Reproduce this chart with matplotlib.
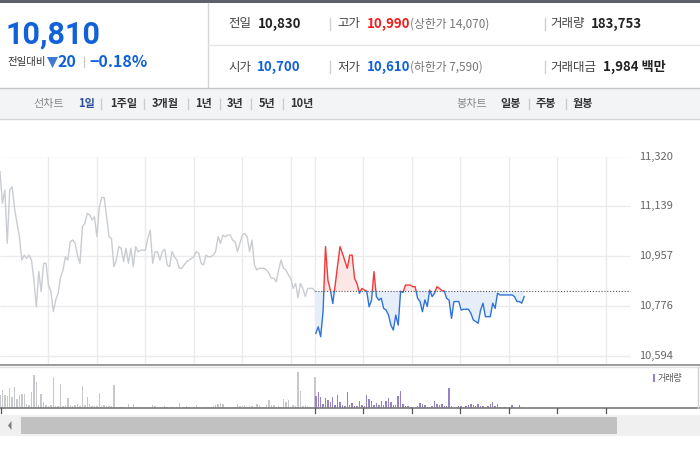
import numpy as np
import matplotlib.pyplot as plt
from matplotlib.patches import Rectangle, Polygon
from matplotlib.lines import Line2D

plt.rcParams['font.family'] = ['Noto Sans CJK KR', 'DejaVu Sans']

# ---- data (3-minute steps) ----
ref_price = 10830          # 전일 종가
day_minutes = 390          # 09:00 ~ 15:30

prev_prices = [
    11265, 11150, 11198, 11004, 11198, 11210, 11131, 11077, 11028, 10943,
    10961, 10949, 10961, 10943, 10870, 10773, 10901, 10828, 10931, 10931,
    10852, 10830, 10755, 10798, 10822, 10880, 10907, 10955, 10943, 11010,
    11016, 11004, 10960, 10931, 11064, 11077, 11113, 11107, 11089, 11100,
    11028, 11137, 11171, 11171, 11101, 11028, 11022, 10919, 10943, 10992,
    10986, 10937, 10986, 10931, 10986, 10919, 10992, 10973, 10979, 10979,
    10979, 11022, 11052, 10931, 10973, 10973, 10943, 10974, 10982, 10925,
    10919, 10974, 10955, 10943, 10913, 10913, 10925, 10937, 10943, 10949,
    10955, 10974, 10968, 10931, 10925, 10961, 10955, 10955, 10961, 10974,
    11028, 11004, 11034, 11028, 11034, 11034, 11016, 11010, 10974, 11004,
    11034, 11040, 11028, 10974, 11016, 10925, 10907, 10913, 10913, 10913,
    10907, 10895, 10877, 10877, 10864, 10907, 10943, 10913, 10907, 10889,
    10877, 10840, 10858, 10806, 10858, 10840, 10810, 10840, 10840, 10840,
    10830,
]
today_prices = [
    10676, 10700, 10664, 10755, 10992, 10870, 10834, 10785, 10852, 10925,
    10992, 10967, 10940, 10913, 10961, 10961, 10876, 10858, 10822, 10840,
    10834, 10830, 10773, 10797, 10901, 10810, 10797, 10804, 10767, 10761,
    10743, 10706, 10688, 10743, 10706, 10830, 10825, 10852, 10852, 10852,
    10846, 10846, 10804, 10792, 10755, 10798, 10774, 10834, 10810, 10822,
    10846, 10840, 10832, 10830, 10804, 10797, 10731, 10792, 10792, 10792,
    10761, 10764, 10764, 10764, 10749, 10725, 10719, 10713, 10761, 10786,
    10737, 10737, 10737, 10786, 10767, 10822, 10816, 10816, 10816, 10816,
    10816, 10816, 10810, 10792, 10792, 10786, 10810,
]
prev_volume = [
    13, 18, 13, 12, 20, 11, 21, 9, 13, 14,
    14, 4, 3, 16, 33, 26, 3, 14, 6, 3,
    2, 3, 31, 2, 2, 24, 2, 3, 10, 3,
    2, 3, 4, 2, 22, 3, 11, 4, 2, 2,
    2, 15, 2, 3, 2, 2, 2, 23, 1, 1,
    1, 1, 0, 4, 1, 4, 0, 1, 1, 0,
    1, 0, 1, 3, 2, 1, 0, 1, 2, 1,
    0, 1, 0, 1, 5, 0, 1, 2, 1, 0,
    1, 3, 1, 0, 1, 1, 1, 1, 2, 3,
    4, 5, 4, 1, 0, 1, 1, 1, 4, 2,
    2, 3, 1, 2, 2, 1, 4, 3, 1, 1,
    3, 8, 3, 3, 1, 2, 1, 9, 6, 8,
    1, 3, 2, 36, 17, 2, 3, 2, 1, 0,
    31,
]
today_volume = [
    12, 16, 11, 4, 10, 8, 6, 11, 3, 13,
    6, 3, 2, 16, 3, 5, 2, 2, 7, 3,
    2, 13, 9, 7, 3, 5, 3, 7, 3, 7,
    10, 6, 3, 3, 12, 17, 4, 2, 2, 1,
    1, 0, 2, 5, 4, 3, 1, 1, 2, 7,
    4, 3, 4, 2, 2, 20, 2, 0, 1, 2,
    2, 1, 2, 3, 4, 3, 2, 4, 2, 2,
    1, 2, 4, 6, 2, 4, 1, 0, 1, 0,
    1, 3, 1, 0, 3, 1, 0,
]
ytick_values = [10594, 10775.5, 10957, 11138.5, 11320]
ytick_labels = ['10,594', '10,776', '10,957', '11,139', '11,320']

prev_t = np.arange(len(prev_prices)) * 3
today_t = day_minutes + 1 + np.arange(len(today_prices)) * 3
hour_lines = list(range(60, 390, 60)) + [390] + list(range(450, 780, 60))

W, H = 700, 450
PX_PER_MIN = 630 / 780
x_max = W / PX_PER_MIN

fig = plt.figure(figsize=(7, 4.5), dpi=100)


def fx(x):
    return x / W


def fy(y):
    return 1 - y / H


def box(x0, y0, x1, y1, color):
    fig.add_artist(Rectangle((fx(x0), fy(y1)), (x1 - x0) / W, (y1 - y0) / H,
                             transform=fig.transFigure, color=color, lw=0, zorder=0))


def line(x0, y0, x1, y1, color, lw=1.0):
    fig.add_artist(Line2D([fx(x0), fx(x1)], [fy(y0), fy(y1)],
                          transform=fig.transFigure, color=color, lw=lw))


def txt(x, y, s, size=9, color='#444444', weight='normal', **kw):
    fig.text(fx(x), fy(y), s, fontsize=size, color=color, weight=weight,
             ha='left', va='center', **kw)


# ---- header ----
blue = '#1162d8'
red = '#f01e1e'
box(0, 0, 700, 3, '#5e6168')
line(208, 3, 208, 88, '#d5d5d5')
line(208, 45, 700, 45, '#e6e6e6')

txt(6, 35, '10,810', size=22, color=blue, weight='bold',
    family=['Liberation Sans Narrow', 'Roboto'])
txt(7, 62, '전일대비', size=7.5, color='#333333')
fig.add_artist(Polygon([(fx(47), fy(57)), (fx(58), fy(57)), (fx(52.5), fy(68))],
                       closed=True, transform=fig.transFigure, color='#3f78d2', lw=0))
txt(58, 62, '20', size=11.5, color=blue, weight='bold')
line(84, 57, 84, 67, '#cccccc')
txt(89, 62, '−0.18%', size=11.5, color=blue, weight='bold')

rows = [
    (24, [(228, '전일', '#444444', 'normal', 9), (258, '10,830', '#222222', 'bold', 9.5),
          (337, '고가', '#444444', 'normal', 9), (367, '10,990', red, 'bold', 9.5),
          (410, '(상한가 14,070)', '#777777', 'normal', 8.5),
          (550, '거래량', '#444444', 'normal', 9), (591, '183,753', '#222222', 'bold', 9.5)]),
    (67, [(228, '시가', '#444444', 'normal', 9), (257, '10,700', blue, 'bold', 9.5),
          (337, '저가', '#444444', 'normal', 9), (367, '10,610', blue, 'bold', 9.5),
          (410, '(하한가 7,590)', '#777777', 'normal', 8.5),
          (550, '거래대금', '#444444', 'normal', 9), (603, '1,984 백만', '#222222', 'bold', 9.5)]),
]
for yc, items in rows:
    for x, s, c, w, sz in items:
        txt(x, yc, s, size=sz, color=c, weight=w)
    line(330, yc - 6, 330, yc + 6, '#d0d0d0')
    line(545, yc - 6, 545, yc + 6, '#d0d0d0')

# ---- tab bar ----
box(0, 88, 700, 119, '#f3f4f6')
line(0, 88, 700, 88, '#c4c4c4')
line(0, 119, 700, 119, '#d6d6d6')
txt(33, 104, '선차트', size=8, color='#888888')
txt(78, 104, '1일', size=8, color='#2d4f9e', weight='bold')
for x, s in [(110, '1주일'), (152, '3개월'), (195, '1년'), (227, '3년'), (259, '5년'), (290, '10년')]:
    txt(x, 104, s, size=8, color='#333333', weight='bold')
for x in [101, 144, 188, 220, 251, 283, 529, 566]:
    line(x, 99, x, 109, '#cccccc')
txt(456, 104, '봉차트', size=8, color='#888888')
for x, s in [(500, '일봉'), (536, '주봉'), (573, '월봉')]:
    txt(x, 104, s, size=8, color='#333333', weight='bold')

# ---- price chart ----
ax = fig.add_axes([0, fy(365), 1, (365 - 156.5) / H])
ax.set_xlim(0, x_max)
ax.set_ylim(10561, 11320)
ax.axis('off')
ax.hlines(ytick_values, 0, 780, color='#ebebeb', lw=1, zorder=1)
ax.vlines(hour_lines, 10561, 11320, color='#ebebeb', lw=1, zorder=1)
for v, lab in zip(ytick_values, ytick_labels):
    ax.text(639 / PX_PER_MIN, v, lab, fontsize=8, color='#666666', ha='left', va='center')

ax.plot(prev_t, prev_prices, color='#c9ccd1', lw=1.0, zorder=3)

tp = np.array(today_prices)
ax.fill_between(today_t, tp, ref_price, where=tp >= ref_price, interpolate=True,
                color='#fde6e6', lw=0, zorder=2)
ax.fill_between(today_t, tp, ref_price, where=tp <= ref_price, interpolate=True,
                color='#e6eef9', lw=0, zorder=2)
up_clip = Rectangle((390, ref_price), 400, 1000, transform=ax.transData)
dn_clip = Rectangle((390, ref_price - 1000), 400, 1000, transform=ax.transData)
red_line, = ax.plot(today_t, tp, color='#f53838', lw=1.0, zorder=4)
red_line.set_clip_path(up_clip)
blue_line, = ax.plot(today_t, tp, color='#2f73d8', lw=1.0, zorder=4)
blue_line.set_clip_path(dn_clip)
ax.hlines(ref_price, 390, 780, color='#555555', lw=0.8, linestyles=(0, (1, 1.6)), zorder=5)

line(0, 365, 700, 365, '#8a8a8a', lw=1.2)
line(0, 367, 700, 367, '#e2e2e2')

# ---- volume ----
axv = fig.add_axes([0, fy(408), 1, (408 - 367) / H])
axv.set_xlim(0, x_max)
axv.set_ylim(0, 41)
axv.axis('off')
axv.bar(prev_t, prev_volume, width=1.8, color='#c6c8cc', lw=0)
axv.bar(today_t, today_volume, width=1.8, color='#9582c4', lw=0)
line(0, 408, 700, 408, '#7a7a7a', lw=1.2)
line(698, 367, 698, 408, '#d0d0d0')
for m in [0, 390, 450, 510, 570, 630, 690, 750]:
    xp = max(m * PX_PER_MIN, 0.6)
    line(xp, 408, xp, 413, '#555555', lw=0.9)
box(652.5, 374, 655, 382, '#9582c4')
txt(658, 378, '거래량', size=6.5, color='#555555')

# ---- scrollbar ----
box(0, 415, 700, 436, '#f0f0f0')
box(21, 417, 617, 434, '#c1c1c1')
fig.add_artist(Polygon([(fx(8), fy(425.5)), (fx(11.5), fy(421)), (fx(11.5), fy(430))],
                       closed=True, transform=fig.transFigure, color='#7d7d7d', lw=0))

fig.savefig('out.png', dpi=100)
